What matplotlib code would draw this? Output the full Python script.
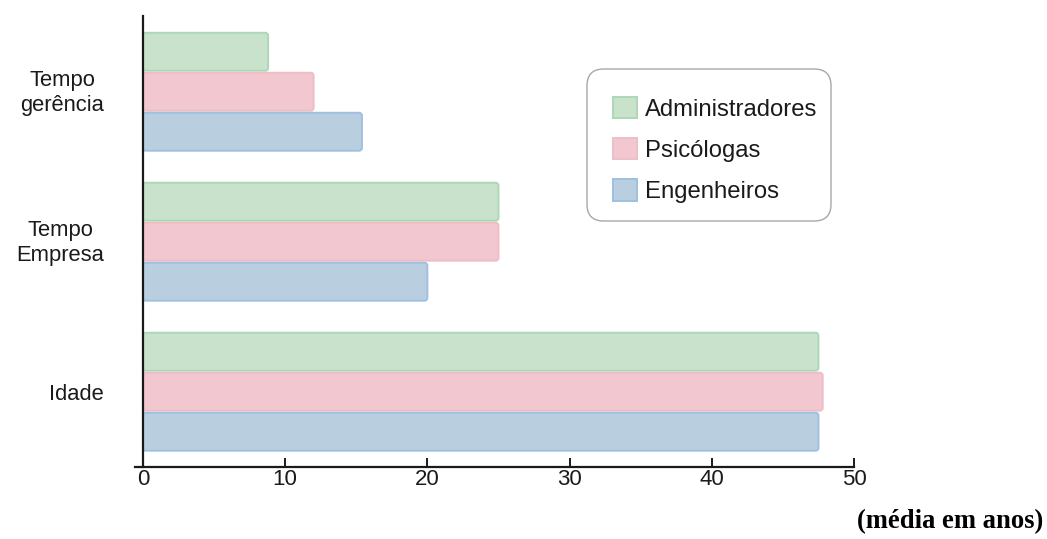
import matplotlib
matplotlib.use("Agg")
import matplotlib.pyplot as plt
from matplotlib.patches import FancyBboxPatch
from matplotlib.transforms import ScaledTranslation
import numpy as np

# Data: average values in years per group
categories = ["Idade", "Tempo\nEmpresa", "Tempo\ngerência"]
series_names = ["Administradores", "Psicólogas", "Engenheiros"]
administradores = [47.5, 25.0, 8.8]
psicologas = [47.8, 25.0, 12.0]
engenheiros = [47.5, 20.0, 15.4]
x_ticks = [0, 10, 20, 30, 40, 50]

face_colors = ["#c9e2cc", "#f2c7cf", "#b9cfe0"]
edge_colors = ["#acd8b5", "#eebdc8", "#9fc0e0"]

plt.rcParams["font.family"] = ["Liberation Sans", "DejaVu Sans"]

W, H = 1047, 539
fig = plt.figure(figsize=(W / 100, H / 100), dpi=100)
ax = fig.add_axes([135 / W, 1 - 466.7 / H, (854 - 135) / W, (466.7 - 16) / H])

y = np.arange(len(categories))
offsets = [0.2667, 0.0, -0.2667]
bar_h = 0.253
values = [administradores, psicologas, engenheiros]

for vals, off, fc, ec, name in zip(values, offsets, face_colors, edge_colors, series_names):
    bars = ax.barh(y + off, vals, height=bar_h, color=fc, edgecolor=ec, label=name)
    # Swap each rectangle for a softly rounded one with the same geometry
    for rect in bars.patches:
        rect.set_visible(False)
        fancy = FancyBboxPatch(
            (rect.get_x(), rect.get_y()), rect.get_width(), rect.get_height(),
            boxstyle="round,pad=0,rounding_size=0.2",
            mutation_aspect=0.095,
            facecolor=fc, edgecolor=ec, linewidth=1.4, zorder=2,
        )
        ax.add_patch(fancy)

ax.set_xlim(-0.56, 50)
ax.set_ylim(-0.5, 2.505)

ax.spines["top"].set_visible(False)
ax.spines["right"].set_visible(False)
ax.spines["left"].set_position(("data", 0))
for s in ("left", "bottom"):
    ax.spines[s].set_linewidth(1.6)
    ax.spines[s].set_color("#1a1a1a")
    ax.spines[s].set_zorder(3)

ax.set_xticks(x_ticks)
ax.set_xticklabels([str(t) for t in x_ticks])
ax.tick_params(axis="x", direction="in", length=6.5, width=1.4, pad=2,
               labelsize=16, colors="#1a1a1a")
ax.set_yticks(y)
ax.set_yticklabels(categories)
ax.tick_params(axis="y", length=0, pad=28, labelsize=15.8, labelcolor="#1a1a1a")
for lbl in ax.get_yticklabels():
    lbl.set_multialignment("center")
    lbl.set_linespacing(1.25)
    if "\n" in lbl.get_text():
        lbl.set_transform(lbl.get_transform() + ScaledTranslation(0, 3 / 100, fig.dpi_scale_trans))

# Legend entries without their own frame; the rounded box is drawn separately
handles = [plt.Rectangle((0, 0), 1, 1, facecolor=fc, edgecolor=ec, linewidth=1.4)
           for fc, ec in zip(face_colors, edge_colors)]
leg = fig.legend(handles, series_names, loc="upper left",
                 bbox_to_anchor=(613 / W, 1 - 97 / H),
                 fontsize=17.2, frameon=False, handlelength=1.0, handleheight=1.0,
                 handletextpad=0.33, labelspacing=0.72, borderpad=0,
                 borderaxespad=0)
for t in leg.get_texts():
    t.set_color("#1a1a1a")

box = FancyBboxPatch((587 / W, 1 - 221 / H), (831 - 587) / W, (221 - 69) / H,
                     boxstyle="round,pad=0,rounding_size=0.016",
                     mutation_aspect=W / H,
                     transform=fig.transFigure, facecolor="white",
                     edgecolor="#a8a8a8", linewidth=1.0, zorder=1)
fig.add_artist(box)
leg.set_zorder(2)

fig.text(1043 / W, 1 - 522 / H, "(média em anos)", ha="right", va="center",
         fontsize=19.2, fontweight="bold", family=["Liberation Serif", "DejaVu Serif"])

fig.savefig("out.png", dpi=100)
